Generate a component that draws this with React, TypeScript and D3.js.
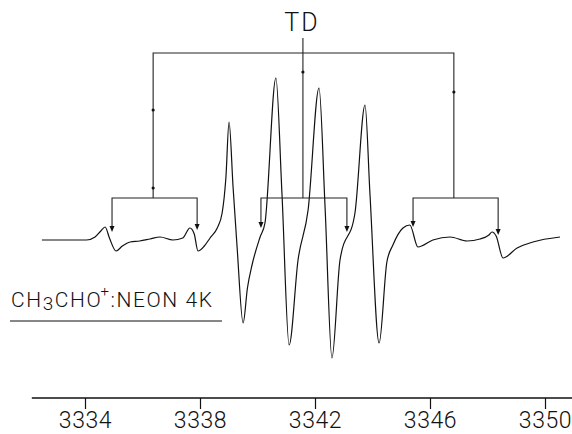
import React, { useEffect, useRef } from 'react';
import * as d3 from 'd3';

// field (G) and derivative signal (arbitrary units)
const fieldG = [
  3332.5, 3334.05, 3334.35, 3334.55, 3334.7, 3334.85, 3335.08, 3335.3, 3335.57, 3335.9,
  3336.26, 3336.61, 3337.06, 3337.4, 3337.65, 3337.8, 3337.93, 3338.15, 3338.35, 3338.6,
  3338.77, 3338.9, 3339.01, 3339.15, 3339.29, 3339.5, 3339.65, 3339.81, 3340.09, 3340.26,
  3340.64, 3340.85, 3341.1, 3341.41, 3341.76, 3342.14, 3342.35, 3342.59, 3342.87, 3343.39,
  3343.74, 3343.91, 3344.23, 3344.5, 3344.71, 3345.06, 3345.3, 3345.58, 3346.1, 3346.7,
  3347.29, 3347.74, 3348.05, 3348.16, 3348.3, 3348.54, 3349.03, 3349.58, 3350.52,
];
const signal = [
  0, 0, 3, 9, 13, 2, -11, -6, -2, -1,
  1, 3, 0, 2, 12, 6, -11, -6, 2, 12,
  27, 62, 118, 53, -7, -83, -48, -25, 3, 17,
  162, 47, -105, -20, 30, 152, 33, -118, -20, 27,
  135, 47, -103, -22, -5, 12, 15, -7, 0, 3,
  -1, 1, 5, 8, 4, -18, -8, -2, 3,
];

// stick diagram
const tdCenter = 3341.58;
const tripletStems = [3336.37, 3341.58, 3346.83];
const lineFields = [3334.94, 3337.9, 3340.12, 3343.11, 3345.41, 3348.37];
const arrowTips = [8, 10, 12, 8, 13, 5];
const topLevel = 187;
const lowerLevel = 42;
const tdTop = 202;
const stemDots = [
  [3336.37, 130], [3336.37, 52], [3341.58, 168], [3346.83, 148],
];

const xTicks = [3334, 3338, 3342, 3346, 3350];

const width = 572;
const height = 434;

const App = () => {
  const svgRef = useRef<SVGSVGElement>(null);

  useEffect(() => {
    const svg = d3.select(svgRef.current);
    svg.selectAll('*').remove();

    const x = d3.scaleLinear().domain([3334, 3350]).range([85, 545]);
    const y = d3.scaleLinear().domain([-150, 170]).range([390, 70]);
    const font = 'Roboto, "DejaVu Sans", sans-serif';

    // x axis
    const axisY = 398;
    svg.append('line')
      .attr('x1', x(3332.15)).attr('x2', width)
      .attr('y1', axisY).attr('y2', axisY)
      .attr('stroke', '#111').attr('stroke-width', 1.3);
    svg.append('g')
      .attr('transform', `translate(0,${axisY})`)
      .call(d3.axisBottom(x).tickValues(xTicks).tickFormat(d3.format('d')).tickSize(11).tickPadding(3))
      .call(g => g.select('.domain').remove())
      .call(g => g.selectAll('.tick line').attr('stroke', '#111').attr('stroke-width', 1.2))
      .call(g => g.selectAll('.tick text')
        .attr('fill', '#111')
        .attr('font-family', font)
        .attr('font-weight', 300)
        .attr('font-size', 23)
        .attr('letter-spacing', 0.6));

    // spectrum trace
    const pts = fieldG.map((f, i) => [x(f), y(signal[i])] as [number, number]);
    svg.append('path')
      .attr('d', d3.line().curve(d3.curveMonotoneX)(pts))
      .attr('fill', 'none')
      .attr('stroke', '#111')
      .attr('stroke-width', 1.2)
      .attr('stroke-linejoin', 'round');

    const sticks = svg.append('g').attr('stroke', '#222').attr('stroke-width', 1.1).attr('fill', 'none');

    // top bracket + TD stem
    sticks.append('path')
      .attr('d', `M${x(tripletStems[0])},${y(lowerLevel)}V${y(topLevel)}H${x(tripletStems[2])}V${y(lowerLevel)}`);
    sticks.append('line')
      .attr('x1', x(tdCenter)).attr('x2', x(tdCenter))
      .attr('y1', y(tdTop)).attr('y2', y(lowerLevel));

    // lower brackets with arrows
    tripletStems.forEach((_, k) => {
      const a = lineFields[2 * k];
      const b = lineFields[2 * k + 1];
      sticks.append('path')
        .attr('d', `M${x(a)},${y(arrowTips[2 * k]) - 4}V${y(lowerLevel)}H${x(b)}V${y(arrowTips[2 * k + 1]) - 4}`);
    });
    svg.append('g').selectAll('path')
      .data(lineFields)
      .join('path')
      .attr('d', (f, i) => {
        const px = x(f);
        const py = y(arrowTips[i]);
        return `M${px - 2.5},${py - 6}L${px + 2.5},${py - 6}L${px},${py}Z`;
      })
      .attr('fill', '#111');

    svg.append('g').selectAll('circle')
      .data(stemDots)
      .join('circle')
      .attr('cx', d => x(d[0]))
      .attr('cy', d => y(d[1]))
      .attr('r', 1.6)
      .attr('fill', '#111');

    svg.append('text')
      .attr('x', x(tdCenter) - 1)
      .attr('y', y(209))
      .attr('text-anchor', 'middle')
      .attr('font-family', font)
      .attr('font-weight', 300)
      .attr('font-size', 25)
      .attr('letter-spacing', 2)
      .attr('fill', '#111')
      .text('TD');

    // sample label
    const label = svg.append('text')
      .attr('x', 11)
      .attr('y', 307)
      .attr('font-family', font)
      .attr('font-weight', 300)
      .attr('font-size', 21)
      .attr('letter-spacing', 1.6)
      .attr('fill', '#111');
    label.append('tspan').text('CH');
    label.append('tspan').attr('dy', 3).attr('font-size', 19).text('3');
    label.append('tspan').attr('dy', -3).text('CHO');
    label.append('tspan').attr('dy', -11).attr('dx', -2).attr('font-size', 15).text('+');
    label.append('tspan').attr('dy', 11).text(':NEON 4K');
    svg.append('line')
      .attr('x1', 10).attr('x2', 222)
      .attr('y1', 321).attr('y2', 321)
      .attr('stroke', '#111').attr('stroke-width', 1.2);
  }, []);

  return (
    <svg
      ref={svgRef}
      width={width}
      height={height}
      style={{ position: 'absolute', left: 0, top: 0, background: '#fff' }}
    />
  );
};

export default App;
